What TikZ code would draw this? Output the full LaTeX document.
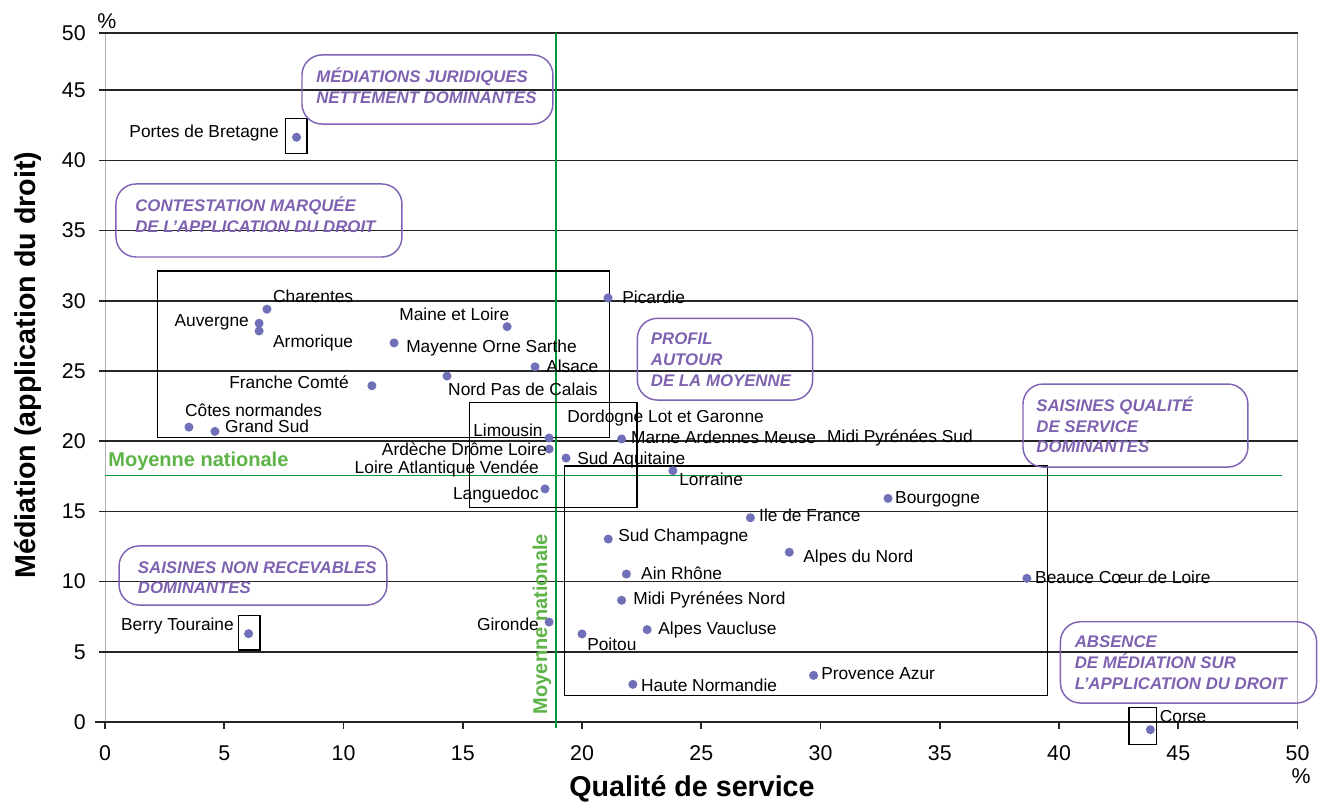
\documentclass[tikz,border=0pt]{standalone}
\usepackage{fontspec}
\setmainfont{Liberation Sans}
\definecolor{dotblue}{RGB}{112,112,184}
\definecolor{zoneline}{RGB}{128,100,180}
\definecolor{zoneink}{RGB}{126,98,176}
\definecolor{avggreen}{RGB}{0,150,60}
\definecolor{avgink}{RGB}{92,180,70}
\def\Juridique{MÉDIATIONS JURIDIQUES\\NETTEMENT DOMINANTES}
\def\Contestation{CONTESTATION MARQUÉE\\DE L’APPLICATION DU DROIT}
\def\Profil{PROFIL\\AUTOUR\\DE LA MOYENNE}
\def\Qualite{SAISINES QUALITÉ\\DE SERVICE\\DOMINANTES}
\def\Irrecevable{SAISINES NON RECEVABLES\\DOMINANTES}
\def\Absence{ABSENCE\\DE MÉDIATION SUR\\L’APPLICATION DU DROIT}
\newcommand{\site}[5]{\node[site] (#1) at (#2) {}; \node[sitename, anchor=#3] (#1-name) at (#4) {#5}}
\newcommand{\zone}[5]{\draw[zone] (#2) rectangle (#3); \node[zonetext] (#1) at (#4) {#5}}
\begin{document}
\begin{tikzpicture}[x=17.8875pt, y=10.53pt,
                    gridline/.style={line width=1.2pt, black!85},
                    axisframe/.style={line width=0.6pt, black!30},
                    cluster/.style={line width=1pt, black},
                    zone/.style={line width=1.1pt, zoneline, rounded corners=15pt},
                    zonetext/.style={
                        anchor=base west, inner sep=0pt, align=left,
                        text=zoneink,
                        font=\fontsize{12.6}{15.6}\selectfont\bfseries\itshape
                    },
                    site/.style={circle, fill=dotblue, minimum size=6.8pt, inner sep=0pt},
                    sitename/.style={
                        inner sep=0pt, text height=9.3pt, text depth=0pt,
                        font=\fontsize{13}{15.6}\selectfont
                    },
                    ticklabel/.style={inner sep=0pt, font=\fontsize{16}{19}\selectfont},
                    axistitle/.style={inner sep=0pt, font=\fontsize{21.5}{26}\selectfont\bfseries},
                    average/.style={line width=0.8pt, avggreen},
                    averagename/.style={
                        inner sep=0pt, text=avgink,
                        font=\fontsize{15}{18}\selectfont\bfseries
                    }]
    \useasboundingbox (-4.403,-5.769) rectangle (51.027,51.425);

    \draw[axisframe] (0,0) -- (0,49.07);
    \draw[axisframe] (50,0) -- (50,49.07);
    \foreach \v in {5,10,...,45} \draw[gridline] (-0.25,\v) -- (50,\v);
    \draw[gridline] (-0.25,49.07) -- (50,49.07);
    \draw[gridline] (-0.4,0) -- (50,0);
    \foreach \v in {0,5,...,50} \draw[gridline] (\v,0) -- (\v,-0.5);

    \foreach \v in {0,5,...,45} \node[ticklabel, anchor=east] (y\v) at (-0.8,\v) {\v};
    \node[ticklabel, anchor=east] (y50) at (-0.8,49.07) {50};
    \foreach \v in {0,5,...,50} \node[ticklabel] (x\v) at (\v,-2.21) {\v};
    \node[ticklabel] (ypct) at (0.08,49.93) {\%};
    \node[ticklabel] (xpct) at (50.15,-3.85) {\%};

    \node[axistitle] (xtitle) at (24.61,-4.77) {Qualité de service};
    \node[axistitle, rotate=90] (ytitle) at (-3.23,25.43) {Médiation (application du droit)};

    \draw[average] (18.91,49.07) -- (18.91,-0.41);
    \draw[average] (0,17.59) -- (49.33,17.59);
    \node[averagename, anchor=west] (avg-h) at (0.13,18.59) {Moyenne nationale};
    \node[averagename, rotate=90] (avg-v) at (18.32,6.98) {Moyenne nationale};

    \draw[cluster] (2.21,32.12) rectangle (21.16,20.28);
    \draw[cluster] (15.27,22.74) rectangle (22.31,15.26);
    \draw[cluster] (19.27,18.23) rectangle (39.52,1.90);
    \draw[cluster] (7.56,43.00) rectangle (8.47,40.48);
    \draw[cluster] (5.61,7.57) rectangle (6.50,5.13);
    \draw[cluster] (42.94,1.02) rectangle (44.08,-1.59);

    \zone{juridique}{8.26,47.51}{18.78,42.59}{8.85,44.08}{\Juridique};
    \zone{contestation}{0.46,38.32}{12.45,33.12}{1.26,34.88}{\Contestation};
    \zone{profil}{22.32,28.75}{29.67,22.93}{22.88,23.92}{\Profil};
    \zone{qualite}{38.49,24.07}{47.92,18.16}{39.04,19.17}{\Qualite};
    \zone{irrecevable}{0.59,12.54}{11.82,8.33}{1.37,9.13}{\Irrecevable};
    \zone{absence}{40.06,7.14}{50.80,1.35}{40.65,2.32}{\Absence};

    \site{portes}{8.03,41.65}{east}{7.30,42.09}{Portes de Bretagne};
    \site{charentes}{6.79,29.40}{west}{7.04,30.34}{Charentes};
    \site{auvergne}{6.46,28.40}{east}{6.04,28.63}{Auvergne};
    \site{armorique}{6.46,27.85}{west}{7.04,27.14}{Armorique};
    \site{maine}{16.86,28.16}{west}{12.33,29.06}{Maine et Loire};
    \site{mayenne}{12.12,27.00}{west}{12.62,26.78}{Mayenne Orne Sarthe};
    \site{alsace}{18.03,25.30}{west}{18.49,25.36}{Alsace};
    \site{franche}{11.19,23.95}{east}{10.23,24.22}{Franche Comté};
    \site{nord}{14.34,24.64}{west}{14.38,23.72}{Nord Pas de Calais};
    \site{cotes}{3.52,21.00}{west}{3.35,22.22}{Côtes normandes};
    \site{grandsud}{4.61,20.70}{west}{5.03,21.08}{Grand Sud};
    \site{picardie}{21.09,30.20}{west}{21.68,30.27}{Picardie};
    \site{limousin}{18.62,20.23}{east}{18.36,20.80}{Limousin};
    \site{ardeche}{18.62,19.44}{east}{18.53,19.44}{Ardèche Drôme Loire};
    \site{aquitaine}{19.33,18.80}{west}{19.79,18.80}{Sud Aquitaine};
    \site{languedoc}{18.45,16.60}{east}{18.20,16.31}{Languedoc};
    \site{marne}{21.66,20.16}{west}{22.05,20.30}{Marne Ardennes Meuse};
    \site{lorraine}{23.81,17.90}{west}{24.07,17.31}{Lorraine};
    \site{bourgogne}{32.83,15.93}{west}{33.12,16.03}{Bourgogne};
    \site{iledefrance}{27.06,14.55}{west}{27.42,14.74}{Ile de France};
    \site{champagne}{21.10,13.03}{west}{21.51,13.32}{Sud Champagne};
    \site{alpesnord}{28.69,12.09}{west}{29.27,11.82}{Alpes du Nord};
    \site{ain}{21.86,10.54}{west}{22.47,10.61}{Ain Rhône};
    \site{beauce}{38.65,10.23}{west}{38.99,10.33}{Beauce Cœur de Loire};
    \site{midinord}{21.66,8.67}{west}{22.14,8.83}{Midi Pyrénées Nord};
    \site{gironde}{18.62,7.12}{east}{18.20,6.98}{Gironde};
    \site{poitou}{20.00,6.27}{west}{20.21,5.56}{Poitou};
    \site{vaucluse}{22.73,6.58}{west}{23.19,6.70}{Alpes Vaucluse};
    \site{hautenormandie}{22.13,2.68}{west}{22.47,2.64}{Haute Normandie};
    \site{provence}{29.71,3.32}{west}{30.02,3.49}{Provence Azur};
    \site{berry}{6.02,6.29}{east}{5.41,6.98}{Berry Touraine};
    \site{corse}{43.83,-0.55}{west}{44.22,0.43}{Corse};

    \node[sitename, anchor=east] (vendee) at (18.20,18.16) {Loire Atlantique Vendée};
    \node[sitename, anchor=west] (dordogne) at (19.37,21.79) {Dordogne Lot et Garonne};
    \node[sitename, anchor=west] (midisud) at (30.27,20.37) {Midi Pyrénées Sud};
\end{tikzpicture}
\end{document}
